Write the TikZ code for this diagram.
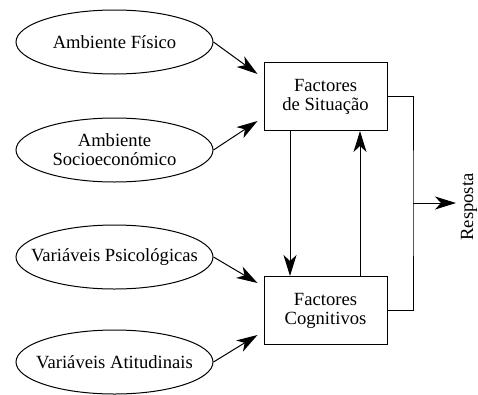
\documentclass[tikz,border=0pt]{standalone}
\usepackage{fontspec}
\setmainfont{Liberation Serif}
\usetikzlibrary{shapes.geometric,arrows.meta}
\begin{document}
\begin{tikzpicture}[x=1pt,y=-1pt,
  every node/.style={font=\fontsize{18.6}{21}\selectfont, align=center},
  source/.style={draw, ellipse, line width=1pt, minimum width=197pt, minimum height=64pt, inner sep=0pt,
    label={center:#1}},
  factor/.style={draw, rectangle, line width=1pt, minimum width=123pt, minimum height=68pt, inner sep=0pt},
  link/.style={line width=1pt},
  flow/.style={line width=1pt, -{Stealth[length=21pt, width=13pt, inset=6pt]}}]
  \useasboundingbox (0,0) rectangle (478,394);

  % input ellipses (fixed size, text set as a centred label)
  \node[source={Ambiente Físico}] (fisico) at (114.5,42) {};
  \node[source={Ambiente\\[-2pt]Socioeconómico}] (socio) at (114.5,150) {};
  \node[source={Variáveis Psicológicas}] (psico) at (114.5,257) {};
  \node[source={Variáveis Atitudinais}] (atit) at (114.5,362) {};

  % factor boxes
  \node[factor] (situ) at (325.5,96.5) {Factores\\[-2pt]de Situação};
  \node[factor] (cogn) at (325.5,310.5) {Factores\\[-2pt]Cognitivos};

  % inputs into the boxes
  \draw[flow] (fisico.east) -- ([shift={(-6pt,-12pt)}]situ.north west);
  \draw[flow] (socio.east)  -- ([shift={(-6pt,10pt)}]situ.south west);
  \draw[flow] (psico.east)  -- ([shift={(-6pt,-7pt)}]cogn.north west);
  \draw[flow] (atit.east)   -- ([shift={(-6pt,10pt)}]cogn.south west);

  % exchange between the two boxes
  \draw[flow] ([xshift=-35.5pt]situ.south) -- ([xshift=-35.5pt]cogn.north);
  \draw[flow] ([xshift=34.5pt]cogn.north) -- ([xshift=34.5pt]situ.south);

  % joint output
  \coordinate (join) at (413,203);
  \coordinate (tip) at (456,203);
  \draw[link] (situ.east) -| (join) |- (cogn.east);
  \draw[flow] (join) -- (tip);
  \node[rotate=90, anchor=center] (resp) at (469,207) {Resposta};
\end{tikzpicture}
\end{document}
